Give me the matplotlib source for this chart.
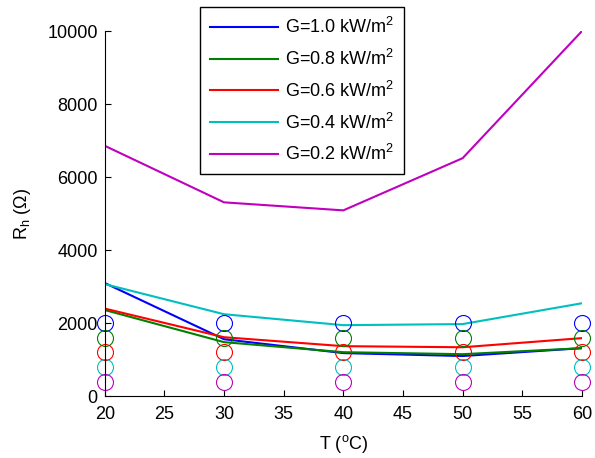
import matplotlib
matplotlib.use("Agg")
import matplotlib.pyplot as plt

T = [20, 30, 40, 50, 60]
labels = ["G=1.0 kW/m$^2$", "G=0.8 kW/m$^2$", "G=0.6 kW/m$^2$", "G=0.4 kW/m$^2$", "G=0.2 kW/m$^2$"]
colors = ["#0000ff", "#008000", "#ff0000", "#00bfbf", "#bf00bf"]
R_g10 = [3100, 1560, 1180, 1100, 1315]
R_g08 = [2360, 1480, 1205, 1150, 1315]
R_g06 = [2400, 1615, 1370, 1340, 1590]
R_g04 = [3070, 2245, 1945, 1975, 2545]
R_g02 = [6860, 5310, 5090, 6520, 10000]
series = [R_g10, R_g08, R_g06, R_g04, R_g02]
marker_levels = [2000, 1600, 1200, 800, 400]

plt.rcParams['font.family'] = ['Liberation Sans', 'DejaVu Sans']
plt.rcParams['mathtext.fontset'] = 'custom'
plt.rcParams['mathtext.rm'] = 'Liberation Sans'
plt.rcParams['mathtext.it'] = 'Liberation Sans'

FS = 13
fig = plt.figure(figsize=(5.95, 4.58), dpi=100)
ax = fig.add_axes([0.176, 0.135, 0.802, 0.797])

for y, lab, c in zip(series, labels, colors):
    ax.plot(T, y, color=c, lw=1.5, label=lab)
for lvl, c in zip(marker_levels, colors):
    ax.plot(T, [lvl] * len(T), linestyle='none', marker='o', markersize=11.5,
            markerfacecolor='none', markeredgecolor=c, markeredgewidth=0.8, clip_on=False)

ax.set_xlim(20, 60)
ax.set_ylim(0, 10000)
ax.set_xticks([20, 25, 30, 35, 40, 45, 50, 55, 60])
ax.set_yticks([0, 2000, 4000, 6000, 8000, 10000])
ax.tick_params(direction='in', labelsize=FS, length=4, top=False, right=False)
ax.tick_params(axis='x', pad=7)
ax.tick_params(axis='y', pad=5)
for s in ['top', 'right']:
    ax.spines[s].set_visible(False)
ax.set_xlabel("T ($^{\\rm o}$C)", fontsize=FS, labelpad=7)
ax.set_ylabel("R$_{\\rm h}$ ($\\Omega$)", fontsize=FS, labelpad=10)

leg = ax.legend(loc='upper left', bbox_to_anchor=(0.199, 1.066), fontsize=FS,
                handlelength=3.8, handletextpad=0.35, frameon=True, fancybox=False,
                edgecolor='black', framealpha=1, borderpad=0.55, labelspacing=0.65,
                borderaxespad=0)
leg.get_frame().set_linewidth(1.0)

fig.savefig("out.png", dpi=100)
